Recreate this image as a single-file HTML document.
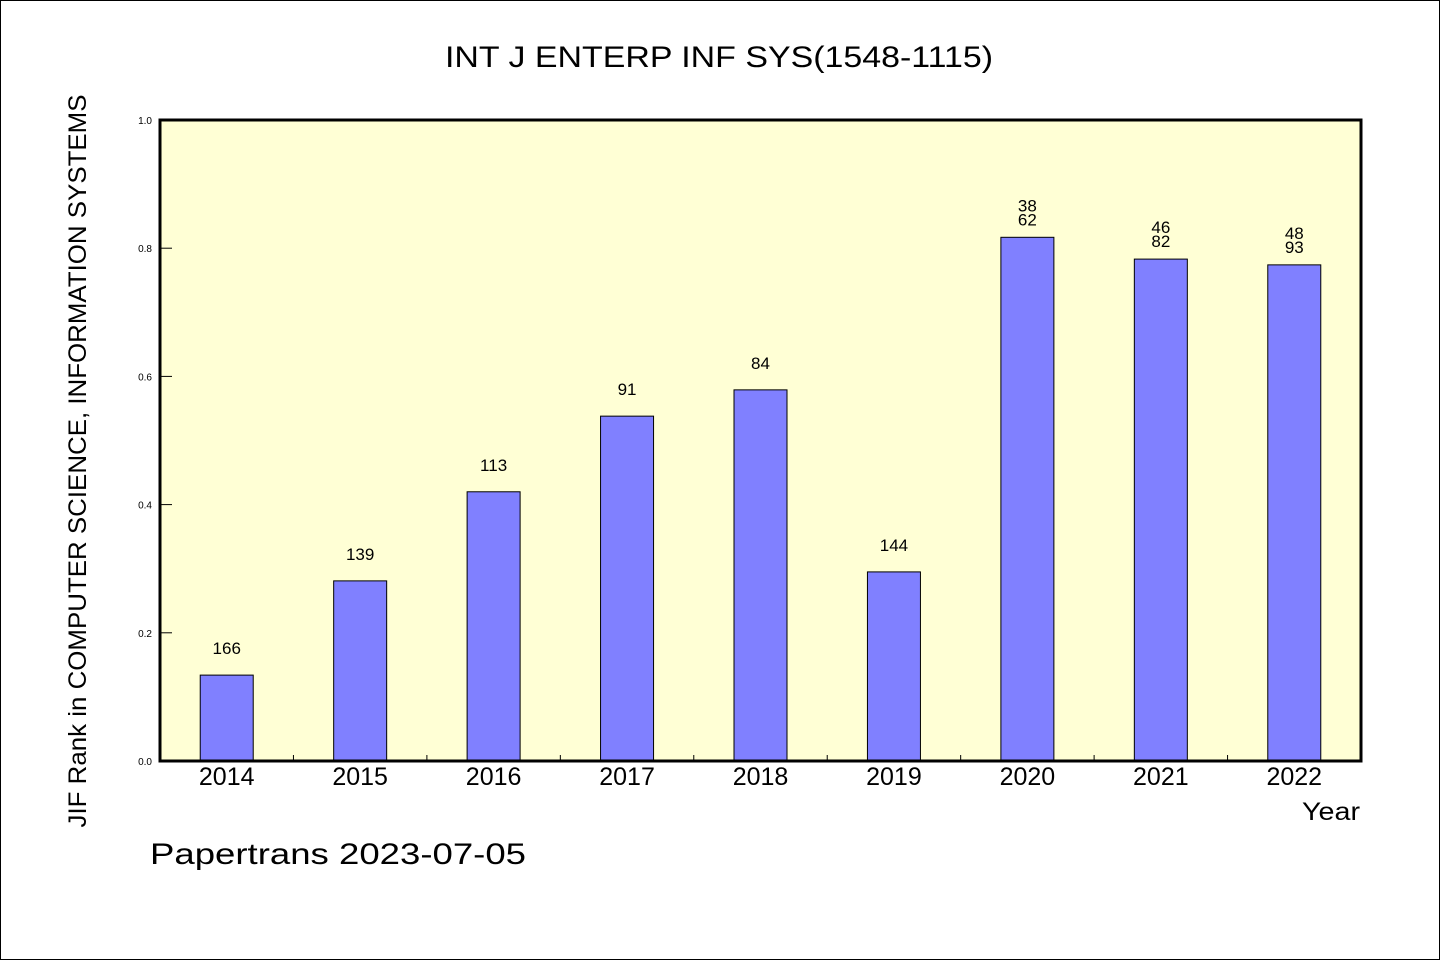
<!DOCTYPE html>
<html><head><meta charset="utf-8"><style>
html,body{margin:0;padding:0;background:#fff}
svg{display:block}
text{font-family:"Liberation Sans",sans-serif;fill:#000}
</style></head><body>
<svg id="chart" width="1440" height="960" xmlns="http://www.w3.org/2000/svg">
<rect x="0.5" y="0.5" width="1439" height="959" fill="#fff" stroke="#000" stroke-width="1"/>
<text x="719" y="67" font-size="30" text-anchor="middle" textLength="548" lengthAdjust="spacingAndGlyphs">INT J ENTERP INF SYS(1548-1115)</text>
<rect x="160" y="120" width="1201" height="641" fill="#ffffd5"/>
<g id="grid"></g>
<g id="bars"></g>
<rect x="160" y="120" width="1201" height="641" fill="none" stroke="#000" stroke-width="3"/>
<text transform="translate(86,461) rotate(-90)" font-size="25" text-anchor="middle" textLength="733" lengthAdjust="spacingAndGlyphs">JIF Rank in COMPUTER SCIENCE, INFORMATION SYSTEMS</text>
<text x="1360" y="820" font-size="25" text-anchor="end" textLength="58" lengthAdjust="spacingAndGlyphs">Year</text>
<text x="150" y="864" font-size="30" textLength="376" lengthAdjust="spacingAndGlyphs">Papertrans 2023-07-05</text>
</svg>
<script>
const categories = ["2014","2015","2016","2017","2018","2019","2020","2021","2022"];
const values = [0.134,0.281,0.420,0.538,0.579,0.295,0.817,0.783,0.774];
const barLabels = ["166","139","113","91","84","144","38\n62","46\n82","48\n93"];
const yTicks = [0,0.2,0.4,0.6,0.8,1.0];
const yTickLabels = ["0.0","0.2","0.4","0.6","0.8","1.0"];

const NS="http://www.w3.org/2000/svg";
const X0=160,X1=1361,Y0=761,Y1=120;
const step=(X1-X0)/categories.length;
const xc=i=>X0+step*(i+0.5);
const yv=v=>Y0-(Y0-Y1)*v;
function mk(tag,attrs,parent){const e=document.createElementNS(NS,tag);for(const k in attrs)e.setAttribute(k,attrs[k]);parent.appendChild(e);return e;}
const grid=document.getElementById('grid'),bars=document.getElementById('bars');
yTicks.forEach((t,i)=>{
  const l=mk('line',{x1:X0,x2:X0+12,y1:yv(t),y2:yv(t),stroke:'#000','stroke-width':1},grid);
  
  
  const tx=mk('text',{x:152,y:yv(t)+4,'font-size':10,'text-anchor':'end'},grid);
  tx.textContent=yTickLabels[i];
  
  
});
for(let i=1;i<categories.length;i++){
  const x=X0+step*i;
  const l=mk('line',{x1:x,x2:x,y1:Y0,y2:Y0-6,stroke:'#000','stroke-width':1},grid);
  
  
}
const bw=53;
categories.forEach((c,i)=>{
  const x=xc(i),y=yv(values[i]);
  const r=mk('rect',{x:x-bw/2,y:y,width:bw,height:Y0-y,fill:'#8080ff',stroke:'#000','stroke-width':1},bars);
  
  
  const lines=barLabels[i].split('\n');
  lines.forEach((s,j)=>{
    const off = lines.length>1 ? (12+(lines.length-1-j)*14) : 21;
    const t=mk('text',{x:x,y:y-off,'font-size':17,'text-anchor':'middle'},bars);
    t.textContent=s;
    
    
  });
  const xl=mk('text',{x:x,y:785,'font-size':25,'text-anchor':'middle'},bars);
  xl.textContent=c;
  
  
});
</script>
</body></html>
